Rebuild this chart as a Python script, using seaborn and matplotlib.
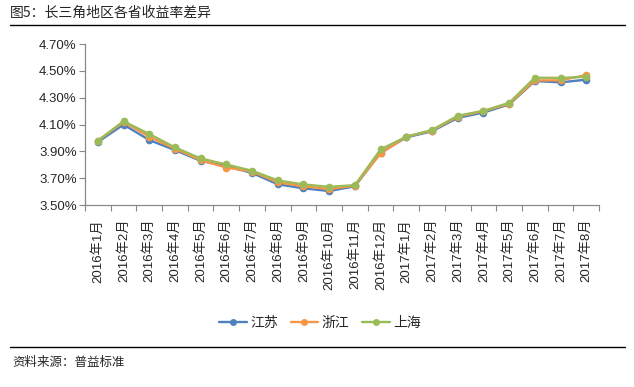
import numpy as np
import pandas as pd
import matplotlib
matplotlib.use("Agg")
import matplotlib.pyplot as plt
from matplotlib.lines import Line2D
import seaborn as sns

months = ["2016年1月", "2016年2月", "2016年3月", "2016年4月", "2016年5月", "2016年6月",
          "2016年7月", "2016年8月", "2016年9月", "2016年10月", "2016年11月", "2016年12月",
          "2017年1月", "2017年2月", "2017年3月", "2017年4月", "2017年5月", "2017年6月",
          "2017年7月", "2017年8月"]
jiangsu = [3.97, 4.10, 3.985, 3.91, 3.83, 3.79, 3.74, 3.655, 3.625, 3.605,
           3.64, 3.89, 4.005, 4.05, 4.15, 4.19, 4.25, 4.425, 4.415, 4.435]
zhejiang = [3.98, 4.12, 4.01, 3.92, 3.835, 3.78, 3.75, 3.67, 3.64, 3.62,
            3.645, 3.885, 4.01, 4.055, 4.16, 4.20, 4.255, 4.43, 4.43, 4.47]
shanghai = [3.98, 4.125, 4.03, 3.93, 3.848, 3.803, 3.756, 3.684, 3.654, 3.636,
            3.649, 3.915, 4.01, 4.06, 4.166, 4.203, 4.262, 4.45, 4.448, 4.456]
provinces = ["江苏", "浙江", "上海"]
yticks = [3.5, 3.7, 3.9, 4.1, 4.3, 4.5, 4.7]

sns.set_style("white")
plt.rcParams['font.family'] = ['Noto Sans CJK SC', 'DejaVu Sans']

df = pd.DataFrame({
    "idx": list(range(len(months))) * 3,
    "rate": jiangsu + zhejiang + shanghai,
    "prov": [p for p in provinces for _ in months],
})
palette = {"江苏": "#4F81BD", "浙江": "#F79646", "上海": "#9BBB59"}

fig = plt.figure(figsize=(6.34, 3.87), dpi=100)
ax = fig.add_axes([0.134, 0.470, 0.811, 0.416])
sns.lineplot(data=df, x="idx", y="rate", hue="prov", hue_order=provinces, palette=palette,
             marker="o", markersize=5.5, markeredgewidth=0, linewidth=1.7, sort=False,
             legend=False, ax=ax)

ax.set_xlim(-0.5, len(months) - 0.5)
ax.set_ylim(3.5, 4.7)
ax.set_yticks(yticks)
ax.set_yticklabels([f"{v:.2f}%" for v in yticks], family=['Liberation Sans', 'Noto Sans CJK SC'],
                   fontsize=9.5)
ax.set_xticks(np.arange(-0.5, len(months), 1.0))
ax.set_xticklabels([])
ax.set_xticks(np.arange(len(months)), minor=True)
ax.set_xticklabels(months, minor=True, rotation=90, fontsize=9.5,
                   family=['Liberation Sans', 'Noto Sans CJK SC'])
ax.tick_params(axis="x", which="major", length=4, color="#888888", direction="out", bottom=True)
ax.tick_params(axis="x", which="minor", length=0, pad=10)
ax.tick_params(axis="y", length=4, color="#888888", direction="out", left=True, pad=2)
ax.set_xlabel("")
ax.set_ylabel("")
for s in ["top", "right"]:
    ax.spines[s].set_visible(False)
for s in ["left", "bottom"]:
    ax.spines[s].set_color("#888888")
    ax.spines[s].set_linewidth(0.9)

handles = [Line2D([], [], color=palette[p], marker="o", markersize=5, linewidth=1.7,
                  markeredgewidth=0) for p in provinces]
fig.legend(handles, provinces, loc="center", bbox_to_anchor=(320 / 634, 1 - 323 / 387), ncol=3,
           frameon=False, fontsize=10, handlelength=2.0, columnspacing=0.9, handletextpad=0.25)

fig.text(10 / 634, 1 - 13 / 387, "图5：长三角地区各省收益率差异", fontsize=10, va="center", ha="left")
fig.add_artist(Line2D([10 / 634, 625 / 634], [1 - 25 / 387] * 2, color="black", linewidth=1,
                      transform=fig.transFigure))
fig.add_artist(Line2D([10 / 634, 625 / 634], [1 - 347 / 387] * 2, color="black", linewidth=1,
                      transform=fig.transFigure))
fig.text(12 / 634, 1 - 362 / 387, "资料来源：普益标准", fontsize=9, va="center", ha="left")

fig.savefig("out.png", dpi=100)
